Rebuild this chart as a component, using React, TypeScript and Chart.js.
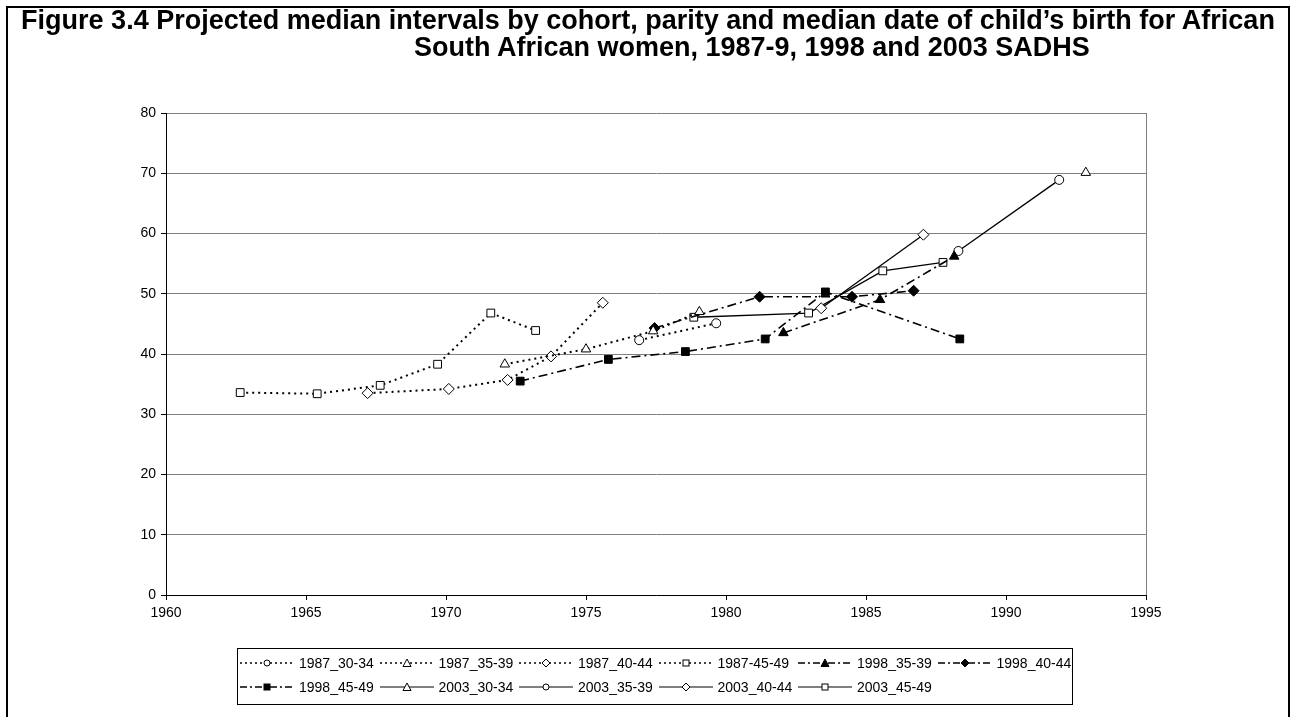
import React, { useEffect, useRef } from "react";
import { Chart, registerables } from "chart.js";

Chart.register(...registerables);

const FONT = '"Liberation Sans", Arial, sans-serif';

// ---- data ----
const xTicks = [1960, 1965, 1970, 1975, 1980, 1985, 1990, 1995];
const yTicks = [0, 10, 20, 30, 40, 50, 60, 70, 80];

const seriesNames = [
  "1987_30-34",
  "1987_35-39",
  "1987_40-44",
  "1987-45-49",
  "1998_35-39",
  "1998_40-44",
  "1998_45-49",
  "2003_30-34",
  "2003_35-39",
  "2003_40-44",
  "2003_45-49",
];

const x1987_30_34 = [1976.9, 1979.65];
const y1987_30_34 = [42.3, 45.1];
const x1987_35_39 = [1972.1, 1975.0, 1977.4, 1979.05];
const y1987_35_39 = [38.3, 40.8, 43.8, 47.0];
const x1987_40_44 = [1967.2, 1970.1, 1972.2, 1973.75, 1975.6];
const y1987_40_44 = [33.5, 34.2, 35.7, 39.6, 48.5];
const x1987_45_49 = [1962.65, 1965.4, 1967.65, 1969.7, 1971.6, 1973.2];
const y1987_45_49 = [33.6, 33.4, 34.8, 38.3, 46.8, 43.9];
const x1998_35_39 = [1982.05, 1985.5, 1988.15];
const y1998_35_39 = [43.5, 49.0, 56.2];
const x1998_40_44 = [1977.45, 1981.2, 1984.5, 1986.7];
const y1998_40_44 = [44.3, 49.5, 49.5, 50.5];
const x1998_45_49 = [1972.65, 1975.8, 1978.55, 1981.4, 1983.55, 1988.35];
const y1998_45_49 = [35.5, 39.1, 40.4, 42.5, 50.3, 42.5];
const x2003_30_34 = [1992.85];
const y2003_30_34 = [70.1];
const x2003_35_39 = [1988.3, 1991.9];
const y2003_35_39 = [57.1, 68.9];
const x2003_40_44 = [1983.4, 1987.05];
const y2003_40_44 = [47.6, 59.8];
const x2003_45_49 = [1978.85, 1982.95, 1985.6, 1987.75];
const y2003_45_49 = [46.1, 46.8, 53.8, 55.2];

const seriesX = [x1987_30_34, x1987_35_39, x1987_40_44, x1987_45_49, x1998_35_39, x1998_40_44, x1998_45_49, x2003_30_34, x2003_35_39, x2003_40_44, x2003_45_49];
const seriesY = [y1987_30_34, y1987_35_39, y1987_40_44, y1987_45_49, y1998_35_39, y1998_40_44, y1998_45_49, y2003_30_34, y2003_35_39, y2003_40_44, y2003_45_49];

// line kinds and markers
const seriesLine = ["dot", "dot", "dot", "dot", "dashdot", "dashdot", "dashdot", "solid", "solid", "solid", "solid"];
const seriesMarker = ["circle", "triangle", "diamond", "square", "triangle", "diamond", "square", "triangle", "circle", "diamond", "square"];
const seriesFilled = [false, false, false, false, true, true, true, false, false, false, false];

const lineStyle: Record<string, { dash: number[]; width: number }> = {
  dot: { dash: [2, 4], width: 2 },
  dashdot: { dash: [9, 4, 2, 4], width: 1.6 },
  solid: { dash: [], width: 1.3 },
};
const markerStyle: Record<string, { style: string; radius: number }> = {
  circle: { style: "circle", radius: 4.5 },
  triangle: { style: "triangle", radius: 5.5 },
  diamond: { style: "rectRot", radius: 5.5 },
  square: { style: "rect", radius: 5.5 },
};

const plotBorder = {
  id: "plotBorder",
  beforeDatasetsDraw(chart: any) {
    const { ctx, chartArea: a } = chart;
    ctx.save();
    ctx.strokeStyle = "#808080";
    ctx.lineWidth = 1;
    ctx.beginPath();
    const x = Math.round(a.right) + 0.5;
    ctx.moveTo(x, a.top);
    ctx.lineTo(x, a.bottom);
    ctx.stroke();
    ctx.restore();
  },
};

function Sample({ line, marker, filled }: { line: string; marker: string; filled: boolean }) {
  const dash = line === "dot" ? "2 3" : line === "dashdot" ? "7 3 2 3" : undefined;
  const sw = line === "solid" ? 1 : 1.5;
  const fill = filled ? "#000" : "#fff";
  let shape: any = null;
  if (marker === "circle") shape = <circle cx={27} cy={6} r={3} fill={fill} stroke="#000" strokeWidth={1} />;
  if (marker === "triangle") shape = <polygon points="27,2 31,9.5 23,9.5" fill={fill} stroke="#000" strokeWidth={1} />;
  if (marker === "diamond") shape = <polygon points="27,2 31,6 27,10 23,6" fill={fill} stroke="#000" strokeWidth={1} />;
  if (marker === "square") shape = <rect x={24} y={3} width={6} height={6} fill={fill} stroke="#000" strokeWidth={1} />;
  return (
    <svg width={54} height={12} style={{ display: "block" }}>
      <line x1={0} y1={6} x2={54} y2={6} stroke="#000" strokeWidth={sw} strokeDasharray={dash} />
      {shape}
    </svg>
  );
}

export default function App() {
  const ref = useRef<HTMLCanvasElement>(null);

  useEffect(() => {
    const datasets = seriesNames.map((name, i) => {
      const ls = lineStyle[seriesLine[i]];
      const ms = markerStyle[seriesMarker[i]];
      return {
        label: name,
        data: seriesX[i].map((x, j) => ({ x, y: seriesY[i][j] })),
        showLine: true,
        borderColor: "#000",
        borderWidth: ls.width,
        borderDash: ls.dash,
        borderCapStyle: "butt",
        pointStyle: ms.style,
        pointRadius: ms.radius,
        pointBorderColor: "#000",
        pointBorderWidth: 1,
        pointBackgroundColor: seriesFilled[i] ? "#000" : "#fff",
        fill: false,
        tension: 0,
      };
    });

    const tickFont = { family: FONT, size: 14 };
    const chart = new Chart(ref.current as HTMLCanvasElement, {
      type: "scatter",
      data: { datasets: datasets as any },
      plugins: [plotBorder],
      options: {
        responsive: false,
        animation: false,
        layout: { padding: { left: 100, top: 113, right: 149, bottom: 92 } },
        plugins: { legend: { display: false }, tooltip: { enabled: false }, title: { display: false } },
        scales: {
          x: {
            type: "linear",
            min: 1960,
            max: 1995,
            afterBuildTicks: (s: any) => {
              s.ticks = xTicks.map((v) => ({ value: v }));
            },
            afterFit: (s: any) => {
              s.height = 30;
            },
            grid: { drawOnChartArea: false, color: "#000", tickLength: 5 },
            border: { color: "#000", width: 1 },
            ticks: { color: "#000", font: tickFont, padding: 5, maxRotation: 0, autoSkip: false, callback: (v: any) => String(v) },
          },
          y: {
            type: "linear",
            min: 0,
            max: 80,
            afterBuildTicks: (s: any) => {
              s.ticks = yTicks.map((v) => ({ value: v }));
            },
            afterFit: (s: any) => {
              s.width = 66;
            },
            grid: { color: "#808080", tickColor: "#000", tickLength: 5 },
            border: { color: "#000", width: 1 },
            ticks: { color: "#000", font: tickFont, padding: 5, autoSkip: false, callback: (v: any) => String(v) },
          },
        },
      } as any,
    });
    return () => chart.destroy();
  }, []);

  const colStart = (c: number) => 240 + c * 139.5;
  const rowCenter = (r: number) => 663 + r * 24;

  return (
    <div
      style={{
        position: "absolute",
        left: 0,
        top: 0,
        width: 1295,
        height: 717,
        overflow: "hidden",
        background: "#fff",
        fontFamily: FONT,
      }}
    >
      <canvas ref={ref} width={1295} height={717} style={{ position: "absolute", left: 0, top: 0 }} />
      <div
        style={{
          position: "absolute",
          left: 6,
          top: 6,
          width: 1284,
          height: 760,
          border: "2px solid #000",
          boxSizing: "border-box",
          pointerEvents: "none",
        }}
      />
      <div
        style={{
          position: "absolute",
          left: 8,
          top: 7,
          width: 1280,
          textAlign: "center",
          fontWeight: "bold",
          fontSize: 27,
          lineHeight: "27px",
          whiteSpace: "nowrap",
        }}
      >
        Figure 3.4 Projected median intervals by cohort, parity and median date of child’s birth for African
      </div>
      <div
        style={{
          position: "absolute",
          left: 414,
          top: 34,
          fontWeight: "bold",
          fontSize: 27,
          lineHeight: "27px",
          whiteSpace: "nowrap",
        }}
      >
        South African women, 1987-9, 1998 and 2003 SADHS
      </div>
      <div
        style={{
          position: "absolute",
          left: 237,
          top: 648,
          width: 836,
          height: 57,
          border: "1px solid #000",
          boxSizing: "border-box",
        }}
      />
      {seriesNames.map((name, i) => {
        const r = i < 6 ? 0 : 1;
        const c = i < 6 ? i : i - 6;
        const x = colStart(c);
        const y = rowCenter(r);
        return (
          <React.Fragment key={name}>
            <div style={{ position: "absolute", left: x, top: y - 6 }}>
              <Sample line={seriesLine[i]} marker={seriesMarker[i]} filled={seriesFilled[i]} />
            </div>
            <div
              style={{
                position: "absolute",
                left: x + 59,
                top: y - 8,
                fontSize: 14,
                lineHeight: "16px",
                whiteSpace: "nowrap",
                color: "#000",
              }}
            >
              {name}
            </div>
          </React.Fragment>
        );
      })}
    </div>
  );
}
